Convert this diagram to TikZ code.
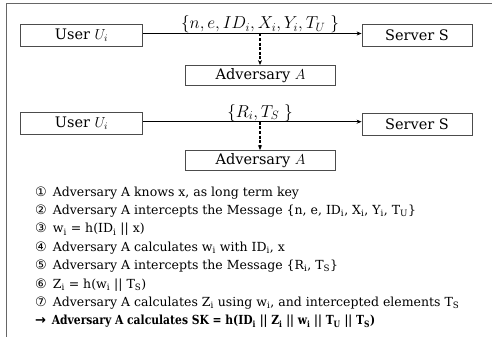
\documentclass[tikz,border=0pt]{standalone}
\usepackage{fontspec}
\setmainfont{DejaVu Serif}
\newfontfamily\numfont{DejaVu Sans}
\newfontfamily\narrowfont{DejaVu Serif}[FakeStretch=0.86]
\usetikzlibrary{arrows.meta}

\newcommand{\lo}[1]{\textsubscript{#1}}
\newcommand{\cn}[1]{{\numfont\fontsize{13}{14}\selectfont #1}\hspace{2pt}}

\begin{document}
\begin{tikzpicture}[x=1pt,y=-1pt,
  box/.style={draw=black!70, line width=0.8pt, minimum height=22pt, inner sep=0pt,
              font=\fontsize{14.5}{16}\selectfont},
  msg/.style={-{Stealth[length=5pt,width=4pt]}, line width=0.8pt},
  tap/.style={-{Stealth[length=5pt,width=4pt]}, dash pattern=on 3pt off 1.6pt, line width=1.3pt},
  lbl/.style={inner sep=0pt, font=\fontsize{16.5}{18}\selectfont},
  item/.style={anchor=base west, inner sep=0pt, font=\fontsize{12.5}{14}\selectfont}
]
\useasboundingbox (0,0) rectangle (492,337);
\fill[white] (0,0) rectangle (492,337);
% outer frame
\draw[black!60, line width=1pt] (492,4) -- (6,4) -- (6,337);

% first exchange
\node[box, minimum width=122pt] (u1) at (81.5,35.5) {User $U_i$};
\node[box, minimum width=110pt] (s1) at (417,35.5) {Server S};
\node[box, minimum width=150pt, minimum height=20pt] (a1) at (260.5,75.5) {Adversary $A$};
\coordinate (o1) at ([yshift=2pt]u1.east);
\draw[msg] (o1) -- (o1 -| s1.west);
\coordinate (t1) at (o1 -| 260,0);
\node[lbl] (m1) at (260,24.5) {$\{n, e, ID_i, X_i, Y_i, T_U\;\}$};
\draw[tap] (t1) -- (a1.north -| t1);

% second exchange
\node[box, minimum width=122pt] (u2) at (81.5,123.5) {User $U_i$};
\node[box, minimum width=110pt] (s2) at (417,124) {Server S};
\node[box, minimum width=150pt, minimum height=20pt] (a2) at (260.5,160.5) {Adversary $A$};
\coordinate (o2) at ([yshift=1.8pt]u2.east);
\draw[msg] (o2) -- (o2 -| s2.west);
\coordinate (t2) at (o2 -| 260,0);
\node[lbl] (m2) at (260,113) {$\{R_i, T_S\;\}$};
\draw[tap] (t2) -- (a2.north -| t2);

% attack steps
\node[item] (l1) at (35,196) {\cn{①} Adversary A knows x, as long term key};
\node[item] (l2) at (35,214.4) {\cn{②} Adversary A intercepts the Message \{n, e, ID\lo{i}, X\lo{i}, Y\lo{i}, T\lo{U}\}};
\node[item] (l3) at (35,232.8) {\cn{③} w\lo{i} = h(ID\lo{i} || x)};
\node[item] (l4) at (35,251.2) {\cn{④} Adversary A calculates w\lo{i} with ID\lo{i}, x};
\node[item] (l5) at (35,269.6) {\cn{⑤} Adversary A intercepts the Message \{R\lo{i}, T\lo{S}\}};
\node[item] (l6) at (35,288) {\cn{⑥} Z\lo{i} = h(w\lo{i} || T\lo{S})};
\node[item] (l7) at (35,306.4) {\cn{⑦} Adversary A calculates Z\lo{i} using w\lo{i}, and intercepted elements T\lo{S}};
\node[item, font=\fontsize{12.5}{14}\selectfont\narrowfont\bfseries] (l8) at (35,324.8) {\cn{→} Adversary A calculates SK = h(ID\lo{i} || Z\lo{i} || w\lo{i} || T\lo{U} || T\lo{S})};
\end{tikzpicture}
\end{document}
